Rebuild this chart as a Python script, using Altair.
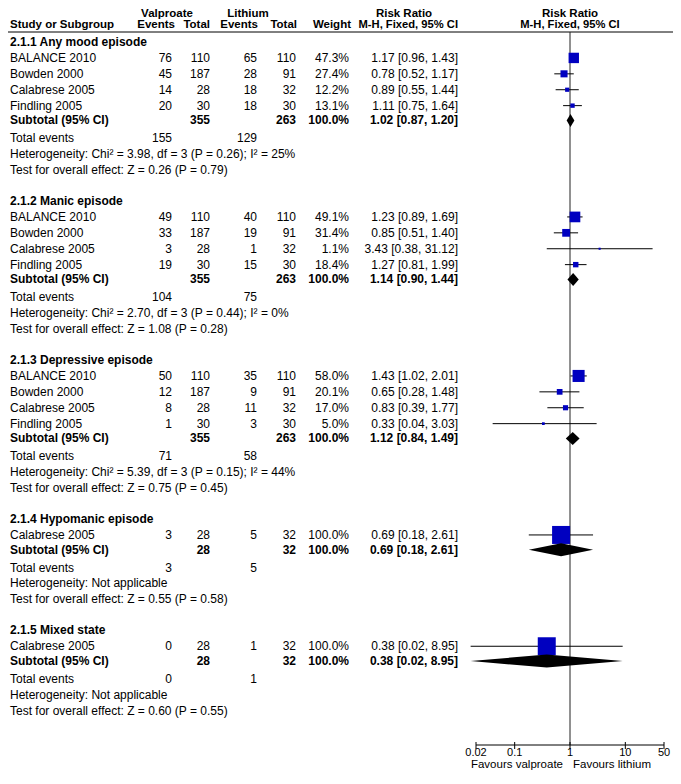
import altair as alt
import pandas as pd

# ---------------- data ----------------
group_titles = ["2.1.1 Any mood episode", "2.1.2 Manic episode", "2.1.3 Depressive episode",
                "2.1.4 Hypomanic episode", "2.1.5 Mixed state"]
study_group = [0, 0, 0, 0, 1, 1, 1, 1, 2, 2, 2, 2, 3, 4]
study_names = ["BALANCE 2010", "Bowden 2000", "Calabrese 2005", "Findling 2005",
               "BALANCE 2010", "Bowden 2000", "Calabrese 2005", "Findling 2005",
               "BALANCE 2010", "Bowden 2000", "Calabrese 2005", "Findling 2005",
               "Calabrese 2005", "Calabrese 2005"]
v_events = [76, 45, 14, 20, 49, 33, 3, 19, 50, 12, 8, 1, 3, 0]
v_total = [110, 187, 28, 30, 110, 187, 28, 30, 110, 187, 28, 30, 28, 28]
l_events = [65, 28, 18, 18, 40, 19, 1, 15, 35, 9, 11, 3, 5, 1]
l_total = [110, 91, 32, 30, 110, 91, 32, 30, 110, 91, 32, 30, 32, 32]
weights = [47.3, 27.4, 12.2, 13.1, 49.1, 31.4, 1.1, 18.4, 58.0, 20.1, 17.0, 5.0, 100.0, 100.0]
rr_est = [1.17, 0.78, 0.89, 1.11, 1.23, 0.85, 3.43, 1.27, 1.43, 0.65, 0.83, 0.33, 0.69, 0.38]
rr_lo = [0.96, 0.52, 0.55, 0.75, 0.89, 0.51, 0.38, 0.81, 1.02, 0.28, 0.39, 0.04, 0.18, 0.016]
rr_hi = [1.43, 1.17, 1.44, 1.64, 1.69, 1.40, 31.12, 1.99, 2.01, 1.48, 1.77, 3.03, 2.61, 8.95]

sub_v_total = [355, 355, 355, 28, 28]
sub_l_total = [263, 263, 263, 32, 32]
sub_weight = [100.0, 100.0, 100.0, 100.0, 100.0]
sub_est = [1.02, 1.14, 1.12, 0.69, 0.38]
sub_lo = [0.87, 0.90, 0.84, 0.18, 0.016]
sub_hi = [1.20, 1.44, 1.49, 2.61, 8.95]
sub_v_events = [155, 104, 71, 3, 0]
sub_l_events = [129, 75, 58, 5, 1]
heterogeneity = ["Heterogeneity: Chi² = 3.98, df = 3 (P = 0.26); I² = 25%",
                 "Heterogeneity: Chi² = 2.70, df = 3 (P = 0.44); I² = 0%",
                 "Heterogeneity: Chi² = 5.39, df = 3 (P = 0.15); I² = 44%",
                 "Heterogeneity: Not applicable",
                 "Heterogeneity: Not applicable"]
overall = ["Test for overall effect: Z = 0.26 (P = 0.79)",
           "Test for overall effect: Z = 1.08 (P = 0.28)",
           "Test for overall effect: Z = 0.75 (P = 0.45)",
           "Test for overall effect: Z = 0.55 (P = 0.58)",
           "Test for overall effect: Z = 0.60 (P = 0.55)"]

axis_ticks = [0.02, 0.1, 1, 10, 50]
axis_labels = ["0.02", "0.1", "1", "10", "50"]
favours_left = "Favours valproate"
favours_right = "Favours lithium"

# ---------------- tables ----------------
def rr_text(e, lo, hi):
    return f"{e:.2f} [{lo:.2f}, {hi:.2f}]"

DIAMOND_HALF = 0.41   # half height of a subtotal diamond, in row units
texts, studies, diamond = [], [], []
r = 0
for g, title in enumerate(group_titles):
    texts.append(dict(row=r, col="name", text=title, bold=True))
    r += 1
    for i, gg in enumerate(study_group):
        if gg != g:
            continue
        texts += [dict(row=r, col="name", text=study_names[i], bold=False),
                  dict(row=r, col="ve", text=str(v_events[i]), bold=False),
                  dict(row=r, col="vt", text=str(v_total[i]), bold=False),
                  dict(row=r, col="le", text=str(l_events[i]), bold=False),
                  dict(row=r, col="lt", text=str(l_total[i]), bold=False),
                  dict(row=r, col="w", text=f"{weights[i]:.1f}%", bold=False),
                  dict(row=r, col="rr", text=rr_text(rr_est[i], rr_lo[i], rr_hi[i]), bold=False)]
        studies.append(dict(row=r, est=rr_est[i], lo=rr_lo[i], hi=rr_hi[i], w=weights[i]))
        r += 1
    sr = r - 0.07
    texts += [dict(row=sr, col="name", text="Subtotal (95% CI)", bold=True),
              dict(row=sr, col="vt", text=str(sub_v_total[g]), bold=True),
              dict(row=sr, col="lt", text=str(sub_l_total[g]), bold=True),
              dict(row=sr, col="w", text=f"{sub_weight[g]:.1f}%", bold=True),
              dict(row=sr, col="rr", text=rr_text(sub_est[g], sub_lo[g], sub_hi[g]), bold=True)]
    diamond += [dict(g=g, x=sub_lo[g], ya=sr, yb=sr),
                dict(g=g, x=sub_est[g], ya=sr - DIAMOND_HALF, yb=sr + DIAMOND_HALF),
                dict(g=g, x=sub_hi[g], ya=sr, yb=sr)]
    r += 1
    texts += [dict(row=r + 0.05, col="name", text="Total events", bold=False),
              dict(row=r + 0.05, col="ve", text=str(sub_v_events[g]), bold=False),
              dict(row=r + 0.05, col="le", text=str(sub_l_events[g]), bold=False),
              dict(row=r + 1.05, col="name", text=heterogeneity[g], bold=False),
              dict(row=r + 2.05, col="name", text=overall[g], bold=False)]
    r += 4

text_df = pd.DataFrame(texts)
study_df = pd.DataFrame(studies)
diamond_df = pd.DataFrame(diamond)
tick_df = pd.DataFrame(dict(v=axis_ticks, label=axis_labels))
axis_df = pd.DataFrame(dict(lo=[min(axis_ticks)], hi=[max(axis_ticks)]))
one_df = pd.DataFrame(dict(v=[1.0]))

# ---------------- scales ----------------
FONT = "Liberation Sans"
FS = 12
W, H = 665, 772
yscale = alt.Scale(domain=[-2.14, 44.21], range=[0, 737], nice=False, zero=False)
xscale = alt.Scale(type="log", domain=[0.02, 50], range=[468, 656], nice=False)

def Y(field="row"):
    return alt.Y(f"{field}:Q", scale=yscale, axis=None)

def X(field):
    return alt.X(f"{field}:Q", scale=xscale, axis=None)

layers = []

# column texts
col_pos = {"name": (2, "left"), "ve": (164, "right"), "vt": (202, "right"),
           "le": (249, "right"), "lt": (288, "right"), "w": (341, "right"),
           "rr": (450, "right")}
for col, (px, al) in col_pos.items():
    for b in (False, True):
        sub = text_df[(text_df.col == col) & (text_df.bold == b)]
        if len(sub) == 0:
            continue
        layers.append(alt.Chart(sub).mark_text(
            align=al, baseline="middle", font=FONT, fontSize=FS,
            fontWeight="bold" if b else "normal", color="#000000"
        ).encode(x=alt.value(px), y=Y(), text="text:N"))

# header texts
def header(label, px, py, al, fs=11.5):
    return alt.Chart(pd.DataFrame(dict(t=[label]))).mark_text(
        align=al, baseline="middle", font=FONT, fontSize=fs, fontWeight="bold", color="#000000"
    ).encode(x=alt.value(px), y=alt.value(py), text="t:N")

hy1, hy2 = 6, 17
layers += [
    header("Valproate", 159, hy1, "center"),
    header("Lithium", 240, hy1, "center"),
    header("Risk Ratio", 396, hy1, "center"),
    header("Risk Ratio", 562, hy1, "center"),
    header("Study or Subgroup", 2, hy2, "left"),
    header("Events", 167, hy2, "right"),
    header("Total", 202, hy2, "right"),
    header("Events", 250, hy2, "right"),
    header("Total", 289, hy2, "right"),
    header("Weight", 343, hy2, "right"),
    header("M-H, Fixed, 95% CI", 450, hy2, "right", 11.2),
    header("M-H, Fixed, 95% CI", 562, hy2, "center", 11.2),
]

# header underline
layers.append(alt.Chart(one_df).mark_rule(color="#000000", strokeWidth=1).encode(
    x=alt.value(0), x2=alt.value(W), y=alt.value(24)))

# line of no effect
layers.append(alt.Chart(one_df).mark_rule(color="#222222", strokeWidth=1).encode(
    x=X("v"), y=alt.value(24), y2=alt.value(737)))

# confidence intervals
layers.append(alt.Chart(study_df).mark_rule(color="#000000", strokeWidth=1).encode(
    x=X("lo"), x2="hi:Q", y=Y()))

# weighted squares
layers.append(alt.Chart(study_df).mark_square(color="#0000C0", opacity=1).encode(
    x=X("est"), y=Y(),
    size=alt.Size("w:Q", scale=alt.Scale(type="pow", exponent=1.5, domain=[0, 100], range=[4, 324]),
                  legend=None)))

# subtotal diamonds
layers.append(alt.Chart(diamond_df).mark_area(
    color="#000000", orient="vertical", opacity=1, interpolate="linear").encode(
    x=X("x"), y=Y("ya"), y2="yb:Q", detail="g:N"))

# axis
layers.append(alt.Chart(axis_df).mark_rule(color="#000000", strokeWidth=1).encode(
    x=X("lo"), x2="hi:Q", y=alt.value(737)))
layers.append(alt.Chart(tick_df).mark_rule(color="#000000", strokeWidth=1).encode(
    x=X("v"), y=alt.value(734), y2=alt.value(741)))
layers.append(alt.Chart(tick_df).mark_text(
    align="center", baseline="middle", font=FONT, fontSize=11, color="#000000"
).encode(x=X("v"), y=alt.value(745), text="label:N"))
layers.append(alt.Chart(one_df).mark_text(
    align="right", baseline="middle", font=FONT, fontSize=11.5, color="#000000", dx=-7,
    text=favours_left).encode(x=X("v"), y=alt.value(757)))
layers.append(alt.Chart(one_df).mark_text(
    align="left", baseline="middle", font=FONT, fontSize=11.5, color="#000000", dx=3,
    text=favours_right).encode(x=X("v"), y=alt.value(757)))

chart = alt.layer(*layers).properties(
    width=W, height=H, padding=0, autosize=alt.AutoSizeParams(type="none"),
    background="#ffffff"
).configure_view(stroke=None)

chart.save("out.html", embed_options={"renderer": "svg", "actions": False})
